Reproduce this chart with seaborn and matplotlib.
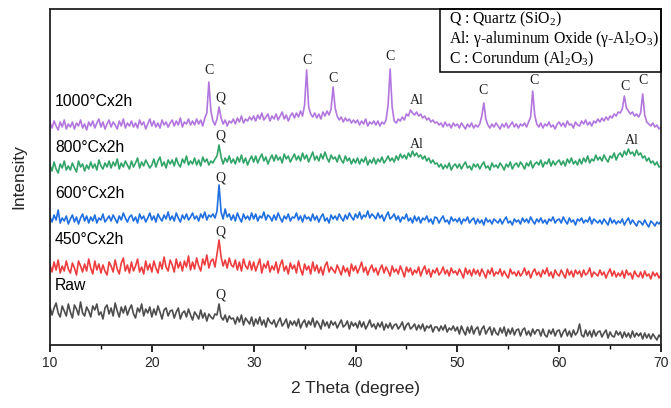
import numpy as np
import pandas as pd
import seaborn as sns
import matplotlib
matplotlib.use("Agg")
import matplotlib.pyplot as plt
from matplotlib.patches import Rectangle

# ---------------- data ----------------
two_theta = np.round(np.linspace(10, 70, 301), 1)

raw = [
    38, 30, 37, 42, 32, 28, 39, 34, 29, 41,
    33, 27, 40, 36, 30, 43, 32, 29, 38, 34,
    28, 39, 35, 41, 30, 33, 26, 37, 40, 31,
    37, 29, 42, 34, 28, 38, 32, 39, 30, 36,
    40, 31, 27, 37, 33, 41, 29, 36, 32, 38,
    28, 36, 30, 39, 33, 26, 35, 37, 29, 34,
    35, 27, 33, 37, 26, 32, 34, 28, 36, 30,
    25, 33, 30, 26, 35, 27, 32, 24, 31, 28,
    26, 31, 30, 41, 28, 25, 30, 23, 29, 26,
    27, 21, 28, 23, 30, 20, 27, 24, 21, 28,
    19, 26, 21, 28, 20, 25, 18, 27, 23, 21,
    25, 18, 23, 27, 19, 22, 26, 17, 24, 20,
    24, 19, 26, 17, 22, 25, 18, 24, 20, 27,
    18, 24, 21, 16, 25, 19, 23, 17, 24, 20,
    23, 17, 21, 25, 18, 20, 24, 16, 23, 19,
    22, 17, 24, 18, 23, 16, 20, 25, 18, 21,
    16, 22, 18, 23, 15, 21, 17, 22, 16, 20,
    21, 16, 19, 23, 15, 20, 22, 16, 18, 21,
    15, 20, 16, 21, 14, 19, 17, 20, 13, 18,
    18, 14, 19, 15, 20, 13, 17, 15, 19, 14,
    18, 11, 19, 14, 10, 18, 12, 19, 11, 16,
    18, 10, 16, 19, 11, 15, 18, 10, 17, 12,
    10, 17, 12, 18, 9, 16, 11, 17, 10, 15,
    16, 9, 15, 17, 10, 14, 9, 16, 11, 15,
    15, 9, 16, 10, 8, 15, 11, 16, 9, 14,
    15, 8, 13, 16, 9, 14, 8, 15, 10, 13,
    21, 10, 8, 15, 9, 14, 8, 15, 9, 13,
    14, 8, 12, 15, 7, 13, 9, 8, 14, 10,
    13, 7, 13, 8, 12, 7, 14, 8, 12, 9,
    12, 6, 12, 7, 11, 6, 11, 8, 5, 10,
    7,
]

c450 = [
    80, 73, 83, 75, 85, 72, 79, 74, 84, 76,
    72, 82, 77, 70, 84, 79, 73, 81, 74, 86,
    77, 71, 84, 75, 81, 72, 80, 74, 70, 83,
    79, 73, 85, 76, 71, 82, 87, 74, 80, 72,
    83, 74, 79, 86, 73, 78, 71, 84, 75, 81,
    73, 84, 77, 72, 83, 76, 88, 78, 74, 85,
    80, 73, 86, 77, 83, 74, 84, 78, 89, 75,
    83, 76, 87, 79, 74, 86, 80, 90, 77, 84,
    86, 78, 91, 105, 88, 79, 85, 77, 87, 80,
    78, 85, 75, 83, 74, 86, 79, 76, 84, 75,
    83, 74, 80, 86, 72, 81, 77, 84, 73, 79,
    75, 83, 72, 80, 85, 74, 79, 71, 82, 76,
    80, 72, 84, 76, 70, 81, 75, 79, 71, 83,
    74, 80, 72, 78, 70, 79, 83, 73, 78, 75,
    72, 80, 75, 70, 79, 73, 77, 69, 81, 74,
    79, 72, 77, 83, 73, 78, 70, 76, 80, 73,
    77, 70, 76, 80, 72, 78, 74, 69, 79, 73,
    76, 71, 79, 74, 68, 78, 73, 77, 70, 75,
    72, 78, 69, 75, 79, 71, 76, 68, 75, 72,
    77, 70, 73, 78, 71, 75, 69, 77, 72, 74,
    70, 76, 72, 67, 77, 71, 75, 69, 76, 71,
    75, 69, 76, 72, 67, 75, 71, 77, 69, 73,
    71, 76, 69, 74, 70, 67, 76, 71, 73, 69,
    74, 69, 72, 77, 70, 74, 67, 73, 76, 70,
    73, 68, 75, 71, 77, 69, 73, 67, 75, 71,
    69, 75, 71, 67, 76, 70, 74, 68, 75, 71,
    74, 68, 75, 70, 72, 77, 68, 73, 71, 69,
    75, 70, 73, 67, 72, 76, 69, 74, 68, 72,
    69, 74, 67, 75, 70, 72, 66, 74, 70, 68,
    73, 67, 74, 69, 71, 66, 73, 69, 72, 67,
    70,
]

c600 = [
    128, 123, 130, 125, 135, 122, 127, 124, 129, 121,
    126, 130, 123, 128, 121, 127, 131, 124, 129, 122,
    128, 124, 130, 122, 127, 125, 131, 123, 126, 129,
    124, 130, 126, 122, 129, 125, 132, 127, 123, 128,
    130, 124, 128, 122, 131, 126, 129, 123, 127, 132,
    125, 129, 123, 131, 127, 124, 130, 126, 133, 125,
    129, 124, 132, 127, 123, 130, 126, 131, 125, 128,
    132, 126, 129, 124, 131, 127, 133, 125, 130, 128,
    131, 127, 134, 160, 133, 126, 136, 128, 131, 125,
    130, 124, 132, 127, 123, 131, 126, 129, 125, 132,
    126, 131, 124, 129, 127, 133, 125, 130, 128, 124,
    130, 125, 132, 127, 123, 129, 126, 131, 124, 128,
    127, 132, 125, 129, 123, 130, 126, 128, 124, 131,
    125, 129, 123, 128, 131, 124, 127, 122, 130, 126,
    129, 125, 131, 127, 124, 130, 126, 132, 128, 125,
    131, 127, 133, 126, 130, 128, 134, 127, 131, 129,
    126, 132, 127, 130, 124, 129, 133, 126, 128, 131,
    125, 129, 123, 128, 126, 131, 124, 127, 122, 129,
    124, 128, 122, 127, 125, 129, 123, 126, 121, 128,
    127, 122, 126, 129, 123, 125, 121, 128, 124, 126,
    123, 127, 121, 126, 124, 128, 122, 125, 127, 121,
    126, 122, 125, 120, 127, 123, 125, 121, 126, 124,
    122, 126, 121, 125, 128, 122, 124, 120, 126, 123,
    125, 121, 127, 123, 126, 122, 128, 124, 121, 126,
    123, 127, 122, 125, 121, 126, 124, 128, 122, 125,
    126, 122, 128, 124, 121, 127, 123, 125, 120, 126,
    124, 127, 122, 125, 123, 128, 121, 126, 124, 122,
    125, 121, 126, 123, 120, 127, 122, 125, 121, 124,
    122, 126, 120, 124, 127, 121, 125, 122, 119, 124,
    123, 120, 125, 121, 118, 124, 122, 119, 123, 121,
    124,
]

c800 = [
    180, 174, 183, 176, 172, 181, 177, 184, 175, 179,
    175, 182, 177, 173, 184, 178, 181, 174, 180, 176,
    183, 177, 181, 175, 185, 179, 176, 182, 178, 184,
    177, 183, 179, 186, 176, 182, 178, 184, 180, 176,
    184, 178, 182, 187, 177, 183, 179, 185, 181, 177,
    180, 186, 178, 184, 188, 179, 183, 177, 185, 181,
    185, 179, 187, 181, 178, 186, 182, 189, 180, 184,
    181, 187, 180, 185, 179, 188, 183, 186, 180, 184,
    182, 186, 189, 200, 188, 181, 187, 183, 189, 182,
    186, 181, 188, 183, 190, 182, 187, 180, 185, 189,
    183, 189, 182, 187, 191, 184, 188, 181, 186, 190,
    184, 190, 185, 188, 182, 191, 186, 189, 183, 187,
    191, 185, 189, 184, 192, 186, 190, 183, 188, 193,
    185, 189, 184, 191, 186, 193, 187, 183, 190, 186,
    188, 183, 190, 185, 182, 189, 184, 187, 181, 186,
    182, 187, 181, 186, 183, 188, 180, 185, 182, 187,
    181, 186, 183, 188, 182, 185, 189, 184, 187, 183,
    189, 185, 191, 187, 190, 186, 192, 188, 194, 189,
    192, 188, 190, 186, 189, 184, 187, 182, 185, 181,
    182, 178, 181, 176, 180, 177, 182, 175, 179, 181,
    177, 181, 176, 180, 183, 177, 179, 175, 181, 178,
    181, 176, 180, 183, 177, 179, 175, 182, 178, 180,
    177, 182, 179, 175, 181, 178, 183, 176, 180, 182,
    178, 183, 180, 176, 182, 179, 184, 177, 181, 183,
    180, 185, 178, 183, 181, 186, 179, 184, 180, 183,
    185, 180, 184, 179, 186, 182, 187, 181, 184, 180,
    186, 181, 187, 183, 189, 182, 186, 184, 190, 185,
    188, 184, 190, 186, 183, 189, 187, 192, 185, 190,
    192, 188, 194, 190, 196, 191, 193, 189, 195, 190,
    192, 187, 189, 184, 187, 182, 184, 180, 183, 178,
    179,
]

c1000 = [
    222, 217, 224, 219, 215, 223, 218, 225, 216, 221,
    218, 223, 216, 222, 219, 225, 217, 221, 215, 223,
    219, 224, 217, 222, 226, 218, 223, 216, 221, 225,
    218, 223, 220, 216, 224, 219, 226, 217, 222, 219,
    224, 218, 222, 217, 225, 220, 223, 216, 221, 226,
    219, 224, 218, 222, 217, 225, 220, 223, 218, 222,
    225, 219, 224, 220, 227, 218, 223, 221, 226, 220,
    224, 220, 226, 221, 225, 219, 227, 232, 263, 234,
    224, 220, 226, 238, 227, 221, 225, 219, 224, 222,
    226, 221, 227, 223, 229, 222, 226, 224, 228, 225,
    229, 224, 230, 226, 232, 225, 228, 231, 224, 229,
    226, 231, 225, 229, 233, 226, 230, 224, 229, 232,
    227, 232, 228, 234, 229, 240, 275, 238, 231, 228,
    232, 227, 231, 226, 233, 229, 234, 230, 236, 258,
    237, 229, 225, 228, 223, 227, 224, 226, 222, 225,
    222, 225, 220, 224, 221, 226, 219, 223, 221, 224,
    220, 224, 219, 223, 221, 225, 240, 276, 238, 224,
    222, 226, 224, 228, 225, 231, 229, 235, 232, 230,
    233, 229, 231, 227, 229, 225, 227, 223, 225, 222,
    223, 220, 222, 218, 223, 219, 221, 217, 222, 219,
    221, 217, 222, 219, 216, 221, 218, 222, 217, 220,
    218, 221, 229, 242, 226, 220, 217, 221, 218, 222,
    219, 216, 221, 218, 222, 217, 220, 223, 218, 221,
    217, 221, 219, 222, 218, 223, 228, 254, 230, 221,
    218, 222, 217, 221, 219, 223, 218, 220, 216, 221,
    223, 219, 222, 218, 224, 220, 221, 217, 223, 220,
    219, 224, 221, 225, 220, 223, 219, 224, 222, 226,
    223, 227, 224, 228, 225, 229, 227, 231, 229, 233,
    232, 236, 249, 237, 234, 231, 233, 229, 231, 228,
    232, 251, 230, 223, 221, 219, 222, 218, 220, 216,
    218,
]

samples = ["Raw", "450°Cx2h", "600°Cx2h", "800°Cx2h", "1000°Cx2h"]
series = [raw, c450, c600, c800, c1000]
colors = ["#4d4d4d", "#ee3d3f", "#1f6fe0", "#31a468", "#b276de"]

# sample label positions (2theta, intensity)
sample_label_x = 10.5
sample_label_y = [59, 105, 152, 197, 244]

# phase marks: (label, 2theta, intensity)
peak_marks = [
    ("C", 25.6, 274), ("Q", 26.7, 247), ("C", 35.2, 284), ("C", 37.8, 267),
    ("C", 43.4, 289), ("Al", 46.0, 245), ("C", 52.5, 255), ("C", 57.5, 265),
    ("C", 66.5, 259), ("C", 68.2, 264),
    ("Q", 26.7, 209), ("Al", 46.0, 200), ("Al", 67.1, 204),
    ("Q", 26.7, 167), ("Q", 26.7, 113), ("Q", 26.7, 50),
]

legend_lines = [
    "Q : Quartz (SiO$_2$)",
    "Al: γ-aluminum Oxide (γ-Al$_2$O$_3$)",
    "C : Corundum (Al$_2$O$_3$)",
]

x_ticks = [10, 20, 30, 40, 50, 60, 70]

# ---------------- figure ----------------
sns.set_style("ticks")
plt.rcParams["font.family"] = ["Liberation Sans", "DejaVu Sans"]
plt.rcParams["mathtext.fontset"] = "custom"
plt.rcParams["mathtext.rm"] = "Liberation Serif"
plt.rcParams["mathtext.it"] = "Liberation Serif:italic"

df = pd.concat(
    [pd.DataFrame({"two_theta": two_theta, "intensity": s, "sample": name})
     for name, s in zip(samples, series)],
    ignore_index=True,
)

fig = plt.figure(figsize=(6.71, 4.08), dpi=100)
ax = fig.add_axes([50 / 671, 1 - 345 / 408, 611 / 671, 336 / 408])

sns.lineplot(data=df, x="two_theta", y="intensity", hue="sample",
             hue_order=samples, palette=colors, estimator=None,
             linewidth=1.2, legend=False, ax=ax)

ax.set_xlim(10, 70)
ax.set_ylim(0, 336)
ax.set_xticks(x_ticks)
ax.set_xticks([15, 25, 35, 45, 55, 65], minor=True)
ax.set_yticks([])
ax.tick_params(axis="x", which="major", direction="out", length=5, width=1.2,
               labelsize=10, pad=3, color="black")
ax.tick_params(axis="x", which="minor", direction="out", length=3, width=1.0,
               color="black")
for sp in ax.spines.values():
    sp.set_visible(True)
    sp.set_linewidth(1.3)
    sp.set_color("#222222")

ax.set_xlabel("2 Theta (degree)", fontsize=12.5, labelpad=8)
ax.set_ylabel("Intensity", fontsize=12.5, labelpad=17)

for name, yy in zip(samples, sample_label_y):
    ax.text(sample_label_x, yy, name, fontsize=11.3, ha="left", va="center",
            color="black")

for lab, xx, yy in peak_marks:
    ax.text(xx, yy, lab, fontsize=10, ha="center", va="center",
            family="Liberation Serif", color="#222222")

# phase legend box
box_left = (440 - 50) / 611
box_bottom = (345 - 72) / 336
ax.add_patch(Rectangle((box_left, box_bottom), 1 - box_left, 1 - box_bottom,
                       transform=ax.transAxes, fill=False, edgecolor="black",
                       linewidth=1.1, zorder=5, clip_on=False))
legend_y = [(345 - 19) / 336, (345 - 39) / 336, (345 - 59) / 336]
for txt, yy in zip(legend_lines, legend_y):
    ax.text((449 - 50) / 611, yy, txt, transform=ax.transAxes, fontsize=11.3,
            ha="left", va="center", family="Liberation Serif", color="black")

fig.savefig("out.png", dpi=100)
